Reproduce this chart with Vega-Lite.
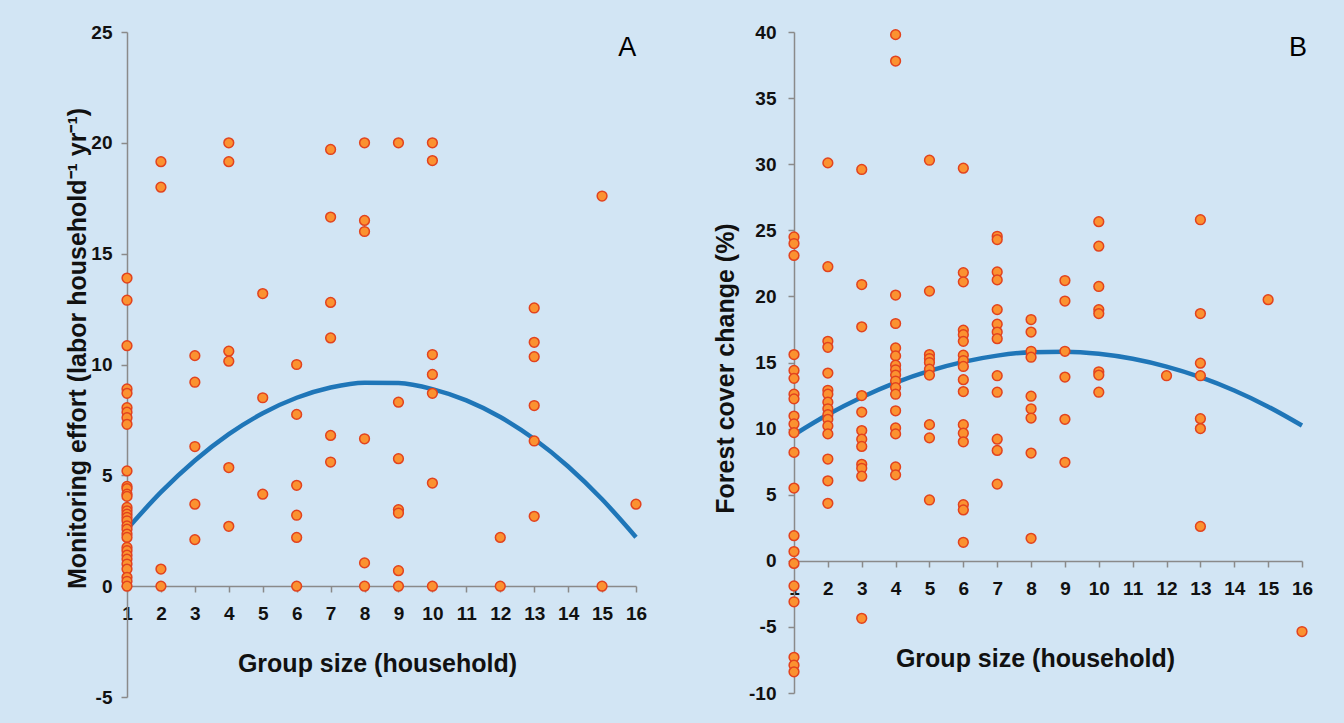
{
  "$schema": "https://vega.github.io/schema/vega-lite/v6.json",
  "autosize": {"type": "pad"},
  "padding": {"left": 65, "top": 23, "right": 31, "bottom": 16},
  "background": "#d2e5f4",
  "bounds": "flush",
  "spacing": 158,
  "config": {
    "view": {"stroke": null},
    "axis": {
      "labelFont": "Liberation Sans", "labelFontSize": 19, "labelFontWeight": "bold", "labelColor": "#111111",
      "titleFont": "Liberation Sans", "titleFontSize": 25, "titleFontWeight": "bold", "titleColor": "#111111",
      "domainColor": "#8a8a8a", "domainWidth": 1.5, "tickColor": "#8a8a8a", "tickWidth": 1.5, "tickSize": 6,
      "grid": false, "labelOverlap": false
    }
  },
  "datasets": {
    "ptsA": [
      {"g":1,"v":13.9},{"g":1,"v":12.9},{"g":1,"v":10.85},{"g":1,"v":8.9},{"g":1,"v":8.7},{"g":1,"v":8.05},{"g":1,"v":7.85},{"g":1,"v":7.6},{"g":1,"v":7.3},{"g":1,"v":5.2},{"g":1,"v":4.5},{"g":1,"v":4.4},{"g":1,"v":4.15},{"g":1,"v":4.05},{"g":1,"v":3.55},{"g":1,"v":3.4},{"g":1,"v":3.25},{"g":1,"v":3.1},{"g":1,"v":2.95},{"g":1,"v":2.72},{"g":1,"v":2.57},{"g":1,"v":2.35},{"g":1,"v":2.2},{"g":1,"v":1.75},{"g":1,"v":1.6},{"g":1,"v":1.4},{"g":1,"v":1.22},{"g":1,"v":1.0},{"g":1,"v":0.77},{"g":1,"v":0.4},{"g":1,"v":0.22},{"g":1,"v":0},
      {"g":2,"v":19.15},{"g":2,"v":18.0},{"g":2,"v":0.77},{"g":2,"v":0},
      {"g":3,"v":10.4},{"g":3,"v":9.2},{"g":3,"v":6.3},{"g":3,"v":3.7},{"g":3,"v":2.1},
      {"g":4,"v":20.0},{"g":4,"v":19.15},{"g":4,"v":10.6},{"g":4,"v":10.15},{"g":4,"v":5.35},{"g":4,"v":2.7},
      {"g":5,"v":13.2},{"g":5,"v":8.5},{"g":5,"v":4.15},
      {"g":6,"v":10.0},{"g":6,"v":7.75},{"g":6,"v":4.55},{"g":6,"v":3.2},{"g":6,"v":2.2},{"g":6,"v":0},
      {"g":7,"v":19.7},{"g":7,"v":16.65},{"g":7,"v":12.8},{"g":7,"v":11.2},{"g":7,"v":6.8},{"g":7,"v":5.6},
      {"g":8,"v":20.0},{"g":8,"v":16.5},{"g":8,"v":16.0},{"g":8,"v":6.65},{"g":8,"v":1.05},{"g":8,"v":0},
      {"g":9,"v":20.0},{"g":9,"v":8.3},{"g":9,"v":5.75},{"g":9,"v":3.45},{"g":9,"v":3.3},{"g":9,"v":0.7},{"g":9,"v":0},
      {"g":10,"v":20.0},{"g":10,"v":19.2},{"g":10,"v":10.45},{"g":10,"v":9.55},{"g":10,"v":8.7},{"g":10,"v":4.65},{"g":10,"v":0},
      {"g":12,"v":2.2},{"g":12,"v":0},
      {"g":13,"v":12.55},{"g":13,"v":11.0},{"g":13,"v":10.35},{"g":13,"v":8.15},{"g":13,"v":6.55},{"g":13,"v":3.15},
      {"g":15,"v":17.6},{"g":15,"v":0},
      {"g":16,"v":3.7}
    ],
    "fitA": [
      {"g":1,"v":2.57},{"g":2,"v":4.24},{"g":3,"v":5.67},{"g":4,"v":6.86},{"g":5,"v":7.8},{"g":6,"v":8.5},{"g":7,"v":8.96},{"g":8,"v":9.18},
      {"g":9,"v":9.16},{"g":10,"v":8.89},{"g":11,"v":8.38},{"g":12,"v":7.63},{"g":13,"v":6.64},{"g":14,"v":5.4},{"g":15,"v":3.92},{"g":16,"v":2.21}
    ],
    "ptsB": [
      {"g":1,"v":24.5},{"g":1,"v":24.0},{"g":1,"v":23.1},{"g":1,"v":15.6},{"g":1,"v":14.4},{"g":1,"v":13.8},{"g":1,"v":12.6},{"g":1,"v":12.25},{"g":1,"v":10.95},{"g":1,"v":10.35},{"g":1,"v":9.7},{"g":1,"v":8.2},{"g":1,"v":5.5},{"g":1,"v":1.9},{"g":1,"v":0.7},{"g":1,"v":-0.2},{"g":1,"v":-1.9},{"g":1,"v":-3.1},{"g":1,"v":-7.3},{"g":1,"v":-7.9},{"g":1,"v":-8.4},
      {"g":2,"v":30.1},{"g":2,"v":22.25},{"g":2,"v":16.6},{"g":2,"v":16.15},{"g":2,"v":14.2},{"g":2,"v":12.9},{"g":2,"v":12.6},{"g":2,"v":12.0},{"g":2,"v":11.5},{"g":2,"v":11.05},{"g":2,"v":10.7},{"g":2,"v":10.2},{"g":2,"v":9.6},{"g":2,"v":7.7},{"g":2,"v":6.05},{"g":2,"v":4.35},
      {"g":3,"v":29.6},{"g":3,"v":20.9},{"g":3,"v":17.7},{"g":3,"v":12.5},{"g":3,"v":11.25},{"g":3,"v":9.85},{"g":3,"v":9.2},{"g":3,"v":8.65},{"g":3,"v":7.3},{"g":3,"v":7.0},{"g":3,"v":6.4},{"g":3,"v":-4.35},
      {"g":4,"v":39.8},{"g":4,"v":37.8},{"g":4,"v":20.1},{"g":4,"v":17.95},{"g":4,"v":16.1},{"g":4,"v":15.5},{"g":4,"v":14.8},{"g":4,"v":14.45},{"g":4,"v":14.05},{"g":4,"v":13.6},{"g":4,"v":13.1},{"g":4,"v":12.6},{"g":4,"v":11.35},{"g":4,"v":10.05},{"g":4,"v":9.6},{"g":4,"v":7.1},{"g":4,"v":6.5},
      {"g":5,"v":30.3},{"g":5,"v":20.4},{"g":5,"v":15.6},{"g":5,"v":15.3},{"g":5,"v":15.0},{"g":5,"v":14.5},{"g":5,"v":14.05},{"g":5,"v":10.3},{"g":5,"v":9.3},{"g":5,"v":4.6},
      {"g":6,"v":29.7},{"g":6,"v":21.8},{"g":6,"v":21.1},{"g":6,"v":17.45},{"g":6,"v":17.1},{"g":6,"v":16.6},{"g":6,"v":15.55},{"g":6,"v":15.15},{"g":6,"v":14.7},{"g":6,"v":13.7},{"g":6,"v":12.8},{"g":6,"v":10.3},{"g":6,"v":9.65},{"g":6,"v":9.0},{"g":6,"v":4.25},{"g":6,"v":3.85},{"g":6,"v":1.4},
      {"g":7,"v":24.55},{"g":7,"v":24.3},{"g":7,"v":21.85},{"g":7,"v":21.25},{"g":7,"v":19.0},{"g":7,"v":17.9},{"g":7,"v":17.3},{"g":7,"v":16.8},{"g":7,"v":14.0},{"g":7,"v":12.75},{"g":7,"v":9.2},{"g":7,"v":8.35},{"g":7,"v":5.8},
      {"g":8,"v":18.25},{"g":8,"v":17.3},{"g":8,"v":15.85},{"g":8,"v":15.4},{"g":8,"v":12.45},{"g":8,"v":11.5},{"g":8,"v":10.8},{"g":8,"v":8.15},{"g":8,"v":1.7},
      {"g":9,"v":21.2},{"g":9,"v":19.65},{"g":9,"v":15.85},{"g":9,"v":13.9},{"g":9,"v":10.7},{"g":9,"v":7.45},
      {"g":10,"v":25.65},{"g":10,"v":23.8},{"g":10,"v":20.75},{"g":10,"v":19.0},{"g":10,"v":18.7},{"g":10,"v":14.3},{"g":10,"v":14.05},{"g":10,"v":12.75},
      {"g":12,"v":14.0},
      {"g":13,"v":25.8},{"g":13,"v":18.7},{"g":13,"v":14.95},{"g":13,"v":14.0},{"g":13,"v":10.75},{"g":13,"v":10.0},{"g":13,"v":2.6},
      {"g":15,"v":19.75},
      {"g":16,"v":-5.35}
    ],
    "fitB": [
      {"g":1,"v":9.53},{"g":2,"v":11.06},{"g":3,"v":12.37},{"g":4,"v":13.48},{"g":5,"v":14.37},{"g":6,"v":15.05},{"g":7,"v":15.52},{"g":8,"v":15.78},
      {"g":9,"v":15.82},{"g":10,"v":15.66},{"g":11,"v":15.28},{"g":12,"v":14.69},{"g":13,"v":13.89},{"g":14,"v":12.88},{"g":15,"v":11.66},{"g":16,"v":10.23}
    ]
  },
  "hconcat": [
    {
      "width": 509,
      "height": 665,
      "layer": [
        {"data": {"name": "fitA"}, "mark": {"type": "line", "color": "#1f76b8", "strokeWidth": 4.5, "interpolate": "monotone"},
          "encoding": {
            "x": {"field": "g", "type": "quantitative", "scale": {"domain": [1, 16], "nice": false, "zero": false},
              "axis": {"values": [1,2,3,4,5,6,7,8,9,10,11,12,13,14,15,16], "offset": -111, "labelPadding": 12, "labelFlush": false, "labelOverlap": false,
                "title": "Group size (household)", "titleX": 250, "titleY": 85, "titleBaseline": "alphabetic", "titleAnchor": null}},
            "y": {"field": "v", "type": "quantitative", "scale": {"domain": [-5, 25], "nice": false, "zero": false},
              "axis": {"values": [-5,0,5,10,15,20,25], "labelPadding": 9, "labelFlush": false, "labelOverlap": false, "labelExpr": "'' + datum.value",
                "title": "Monitoring effort (labor household⁻¹ yr⁻¹)", "titleX": -42, "titleY": 316, "titleBaseline": "alphabetic", "titleAngle": -90}}
          }},
        {"data": {"name": "ptsA"}, "mark": {"type": "point", "shape": "circle", "filled": true, "fill": "#fb9230", "stroke": "#e2431e", "strokeWidth": 1.5, "size": 95, "opacity": 1},
          "encoding": {
            "x": {"field": "g", "type": "quantitative",
              "axis": {"values": [1,2,3,4,5,6,7,8,9,10,11,12,13,14,15,16], "offset": -111, "labelPadding": 12, "labelFlush": false, "labelOverlap": false,
                "title": "Group size (household)", "titleX": 250, "titleY": 85, "titleBaseline": "alphabetic", "titleAnchor": null}},
            "y": {"field": "v", "type": "quantitative",
              "axis": {"values": [-5,0,5,10,15,20,25], "labelPadding": 9, "labelFlush": false, "labelOverlap": false, "labelExpr": "'' + datum.value",
                "title": "Monitoring effort (labor household⁻¹ yr⁻¹)", "titleX": -42, "titleY": 316, "titleBaseline": "alphabetic", "titleAngle": -90}}
          }},
        {"data": {"values": [{"label": "A"}]}, "mark": {"type": "text", "font": "Liberation Sans", "fontSize": 27, "fill": "#000000", "align": "center", "baseline": "alphabetic"},
          "encoding": {
            "x": {"datum": 15.74, "type": "quantitative",
              "axis": {"values": [1,2,3,4,5,6,7,8,9,10,11,12,13,14,15,16], "offset": -111, "labelPadding": 12, "labelFlush": false, "labelOverlap": false,
                "title": "Group size (household)", "titleX": 250, "titleY": 85, "titleBaseline": "alphabetic", "titleAnchor": null}},
            "y": {"datum": 23.91, "type": "quantitative",
              "axis": {"values": [-5,0,5,10,15,20,25], "labelPadding": 9, "labelFlush": false, "labelOverlap": false, "labelExpr": "'' + datum.value",
                "title": "Monitoring effort (labor household⁻¹ yr⁻¹)", "titleX": -42, "titleY": 316, "titleBaseline": "alphabetic", "titleAngle": -90}},
            "text": {"field": "label", "type": "nominal"}}}
      ]
    },
    {
      "width": 508,
      "height": 661,
      "layer": [
        {"data": {"name": "fitB"}, "mark": {"type": "line", "color": "#1f76b8", "strokeWidth": 4.5, "interpolate": "monotone"},
          "encoding": {
            "x": {"field": "g", "type": "quantitative", "scale": {"domain": [1, 16], "nice": false, "zero": false},
              "axis": {"values": [1,2,3,4,5,6,7,8,9,10,11,12,13,14,15,16], "offset": -132, "labelPadding": 12, "labelFlush": false, "labelOverlap": false,
                "title": "Group size (household)", "titleX": 241, "titleY": 105, "titleBaseline": "alphabetic", "titleAnchor": null}},
            "y": {"field": "v", "type": "quantitative", "scale": {"domain": [-10, 40], "nice": false, "zero": false},
              "axis": {"values": [-10,-5,0,5,10,15,20,25,30,35,40], "labelPadding": 12, "labelFlush": false, "labelOverlap": false, "labelExpr": "'' + datum.value",
                "title": "Forest cover change (%)", "titleX": -61, "titleY": 336, "titleBaseline": "alphabetic", "titleAngle": -90}}
          }},
        {"data": {"name": "ptsB"}, "mark": {"type": "point", "shape": "circle", "filled": true, "fill": "#fb9230", "stroke": "#e2431e", "strokeWidth": 1.5, "size": 95, "opacity": 1},
          "encoding": {
            "x": {"field": "g", "type": "quantitative",
              "axis": {"values": [1,2,3,4,5,6,7,8,9,10,11,12,13,14,15,16], "offset": -132, "labelPadding": 12, "labelFlush": false, "labelOverlap": false,
                "title": "Group size (household)", "titleX": 241, "titleY": 105, "titleBaseline": "alphabetic", "titleAnchor": null}},
            "y": {"field": "v", "type": "quantitative",
              "axis": {"values": [-10,-5,0,5,10,15,20,25,30,35,40], "labelPadding": 12, "labelFlush": false, "labelOverlap": false, "labelExpr": "'' + datum.value",
                "title": "Forest cover change (%)", "titleX": -61, "titleY": 336, "titleBaseline": "alphabetic", "titleAngle": -90}}
          }},
        {"data": {"values": [{"label": "B"}]}, "mark": {"type": "text", "font": "Liberation Sans", "fontSize": 27, "fill": "#000000", "align": "center", "baseline": "alphabetic"},
          "encoding": {
            "x": {"datum": 15.88, "type": "quantitative",
              "axis": {"values": [1,2,3,4,5,6,7,8,9,10,11,12,13,14,15,16], "offset": -132, "labelPadding": 12, "labelFlush": false, "labelOverlap": false,
                "title": "Group size (household)", "titleX": 241, "titleY": 105, "titleBaseline": "alphabetic", "titleAnchor": null}},
            "y": {"datum": 38.2, "type": "quantitative",
              "axis": {"values": [-10,-5,0,5,10,15,20,25,30,35,40], "labelPadding": 12, "labelFlush": false, "labelOverlap": false, "labelExpr": "'' + datum.value",
                "title": "Forest cover change (%)", "titleX": -61, "titleY": 336, "titleBaseline": "alphabetic", "titleAngle": -90}},
            "text": {"field": "label", "type": "nominal"}}}
      ]
    }
  ]
}
